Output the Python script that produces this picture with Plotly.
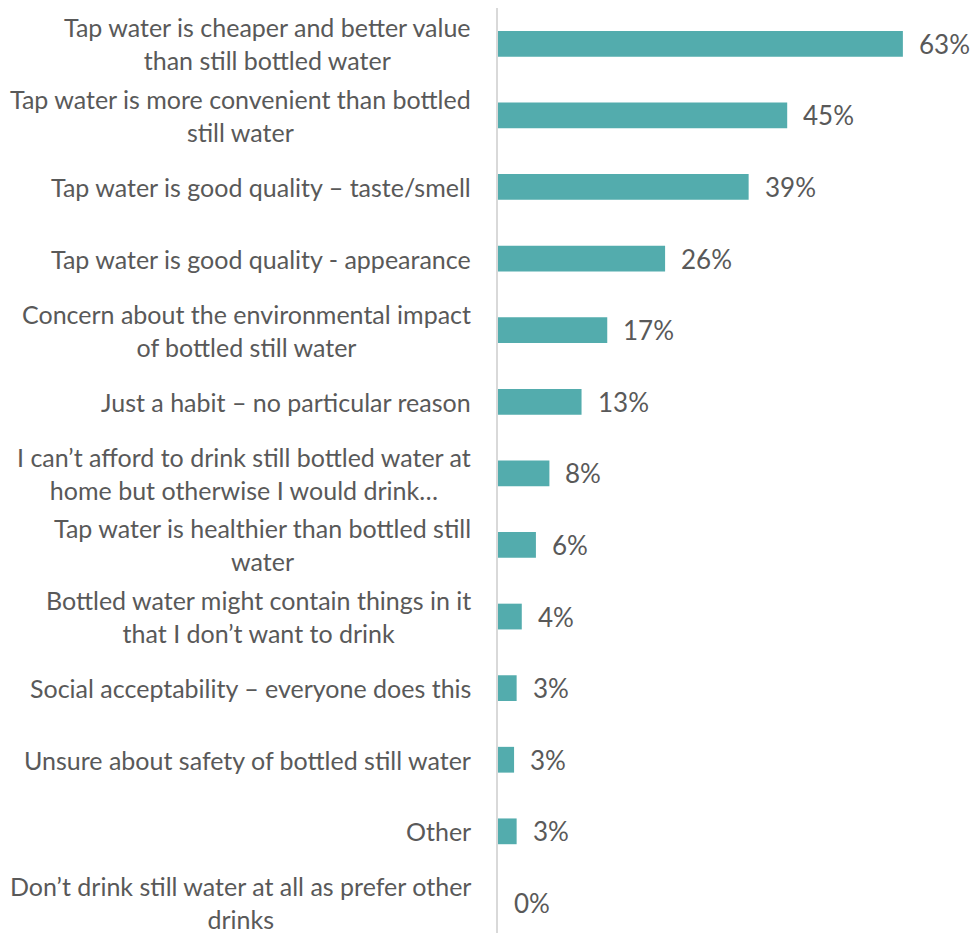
import plotly.graph_objects as go

categories = [
    "Tap water is cheaper and better value<br>than still bottled water",
    "Tap water is more convenient than bottled<br>still water",
    "Tap water is good quality – taste/smell",
    "Tap water is good quality - appearance",
    "Concern about the environmental impact<br>of bottled still water",
    "Just a habit – no particular reason",
    "I can’t afford to drink still bottled water at<br>home but otherwise I would drink…",
    "Tap water is healthier than bottled still<br>water",
    "Bottled water might contain things in it<br>that I don’t want to drink",
    "Social acceptability – everyone does this",
    "Unsure about safety of bottled still water",
    "Other",
    "Don’t drink still water at all as prefer other<br>drinks",
]
values = [63, 45, 39, 26, 17, 13, 8, 5.9, 3.7, 2.9, 2.5, 2.9, 0]
value_labels = ["63%", "45%", "39%", "26%", "17%", "13%", "8%", "6%", "4%", "3%", "3%", "3%", "0%"]

FONT = "Lato"
GREY = "#595959"

fig = go.Figure(go.Bar(
    x=values, y=categories, orientation="h",
    marker=dict(color="#53ACAD", line=dict(width=0)),
    hoverinfo="skip",
))

for c, v, t in zip(categories, values, value_labels):
    fig.add_annotation(x=v, y=c, text=t, showarrow=False, xanchor="left",
                       yanchor="middle", xshift=14,
                       font=dict(family=FONT, size=26, color=GREY))
    fig.add_annotation(x=0, xref="paper", y=c, text=c, showarrow=False,
                       xanchor="right", yanchor="middle", xshift=-25,
                       align="center",
                       font=dict(family=FONT, size=25, color=GREY))

fig.update_layout(
    width=971, height=933,
    margin=dict(l=498, r=0, t=8, b=0),
    paper_bgcolor="white", plot_bgcolor="white",
    bargap=0.64, showlegend=False,
    font=dict(family=FONT, color=GREY),
)
fig.update_xaxes(range=[0, 73.6], visible=False, showgrid=False, zeroline=False)
fig.update_yaxes(
    type="category", range=[12.42, -0.5],
    showline=True, linecolor="#D9D9D9", linewidth=1.5,
    showgrid=False, zeroline=False, ticks="",
    showticklabels=False,
)

fig.write_html("out.html")
